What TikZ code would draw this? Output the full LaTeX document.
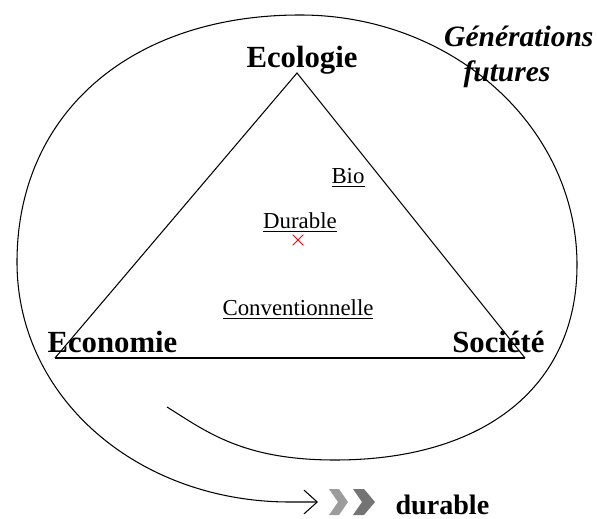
\documentclass[tikz,border=0pt]{standalone}
\usepackage{fontspec}
\setmainfont{Liberation Serif}
\usetikzlibrary{arrows.meta, shapes.misc}
\definecolor{tdred}{HTML}{FF0000}
\definecolor{tdgray}{HTML}{9C9C9C}
\definecolor{tddark}{HTML}{747474}

\begin{document}
\begin{tikzpicture}[x=0.02cm, y=-0.02cm, line width=0.6pt]
  \useasboundingbox (0,0) rectangle (597,519);
  % triangle
  \coordinate (top) at (297,73);
  \coordinate (lft) at (55,358);
  \coordinate (rgt) at (525,358);
  \draw (lft) -- (top) -- (rgt);
  \draw[line width=1.2pt] (lft) -- (rgt);
  % spiral towards the future
  \coordinate (start) at (167,407);
  \coordinate (tip) at (318,502);
  \draw[-{Straight Barb[length=7.5pt, width=13.5pt]}] (start)
    .. controls (207,432) and (243,460) .. (335,460)
    .. controls (485,460) and (577,386) .. (577,265)
    .. controls (577,127) and (453,15) .. (300,15)
    .. controls (130,15) and (17,114) .. (17,262)
    .. controls (17,399) and (139,502) .. (290,502) -- (tip);
  \fill[tdgray] (329,489) -- (339,489) -- (348,502) -- (339,515) -- (329,515) -- (338,502) -- cycle;
  \fill[tddark] (353,489) -- (364,489) -- (375,502) -- (364,515) -- (353,515) -- (362,502) -- cycle;
  % poles
  \node[font=\bfseries\fontsize{17.5}{20}\selectfont, anchor=base, inner sep=0pt] (ecol) at (302,68) {Ecologie};
  \node[font=\bfseries\fontsize{17.5}{20}\selectfont, anchor=base west, inner sep=0pt] (econ) at (47,353) {Economie};
  \node[font=\bfseries\fontsize{17.5}{20}\selectfont, anchor=base east, inner sep=0pt] (soc) at (545,353) {Société};
  \node[font=\bfseries\itshape\fontsize{16.8}{20}\selectfont, anchor=base east, inner sep=0pt] (gen) at (594,47) {Générations};
  \node[font=\bfseries\itshape\fontsize{16.8}{20}\selectfont, anchor=base, inner sep=0pt] (fut) at (507,82) {futures};
  \node[font=\bfseries\fontsize{16}{18}\selectfont, anchor=base west, inner sep=0pt] (dur) at (395,514) {durable};
  % kinds of agriculture
  \node[font=\fontsize{13}{15}\selectfont, anchor=base, inner sep=0pt] (bio) at (348,184) {\underline{Bio}};
  \node[font=\fontsize{13}{15}\selectfont, anchor=base, inner sep=0pt] (drb) at (300,229) {\underline{Durable}};
  \node[font=\fontsize{13}{15}\selectfont, anchor=base, inner sep=0pt] (conv) at (298,316) {\underline{Conventionnelle}};
  \node[cross out, draw=tdred, line width=0.5pt, minimum size=5.5pt, inner sep=0pt] (ctr) at (298,240) {};
\end{tikzpicture}
\end{document}
